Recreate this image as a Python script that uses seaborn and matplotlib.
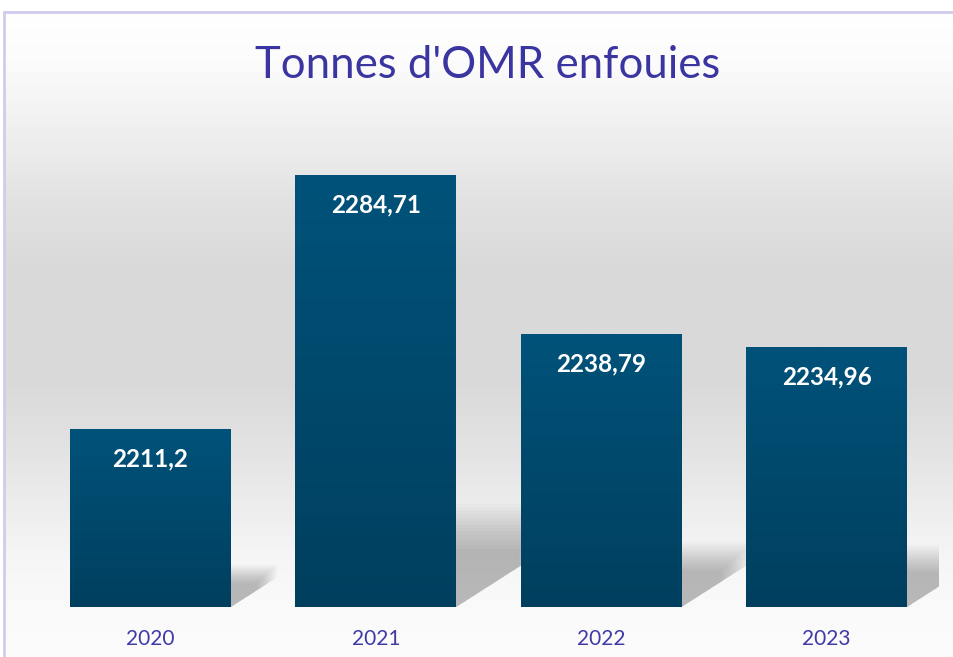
import numpy as np
import pandas as pd
import seaborn as sns
import matplotlib.pyplot as plt
from matplotlib.patches import Polygon

sns.set_style('white')
plt.rcParams['font.family'] = ['Lato', 'DejaVu Sans']

# données
years = ['2020', '2021', '2022', '2023']
tonnes = [2211.2, 2284.71, 2238.79, 2234.96]
title = "Tonnes d'OMR enfouies"

df = pd.DataFrame({'annee': years, 'tonnes': tonnes})

W, H = 954, 657
fig = plt.figure(figsize=(W / 100, H / 100), dpi=100)

# fond dégradé + cadre (coordonnées pixel)
bg = fig.add_axes([0, 0, 1, 1], zorder=-2)
bg.set_xlim(0, W)
bg.set_ylim(H, 0)
bg.axis('off')
stops_y = [12, 60, 100, 150, 200, 270, 380, 430, 500, 560, 610, 657]
stops_g = [255, 252, 245, 236, 226, 217, 217, 224, 236, 246, 250, 252]
yy = np.arange(12, H)
grey = np.interp(yy, stops_y, stops_g) / 255
img = np.repeat(np.repeat(grey[:, None, None], 3, axis=2), W - 4, axis=1)
bg.imshow(img, extent=[4, W, H, 12], aspect='auto', interpolation='nearest')
bg.plot([4, W], [12, 12], color='#d2cbee', lw=2)
bg.plot([4, 4], [12, H], color='#d2cbee', lw=2)

ax = fig.add_axes([37.75 / W, 50 / H, 901.5 / W, 484 / H])
ax.patch.set_alpha(0)
ymin, ymax = 2160, 2300
sns.barplot(data=df, x='annee', y='tonnes', color='#004a6e', width=0.714,
            ax=ax, saturation=1)
ax.set_xlim(-0.5, 3.5)
ax.set_ylim(ymin, ymax)
bars = list(ax.patches)

# ombres portées (floues)
px_x = 901.5 / 4
px_y = 484 / (ymax - ymin)
for p in bars:
    x0 = p.get_x()
    x1 = x0 + p.get_width()
    h = (p.get_height() + p.get_y() - ymin) * px_y
    dx = 0.25 * h / px_x
    s = 0.23 * h / px_y
    r = 0.16 * h / px_y
    for k in range(14):
        f = 1.04 - k * 0.035
        pts = [(x0, ymin), (x1, ymin), (x1 + dx * f, ymin + r * f),
               (x1 + dx * f, ymin + s * f), (x0 + dx * f, ymin + s * f)]
        ax.add_patch(Polygon(pts, closed=True, color='black', alpha=0.02,
                             lw=0, zorder=0.5))

# dégradé des barres
grad = np.linspace(0, 1, 200)[:, None]
top = np.array([0x00, 0x52, 0x7a]) / 255
bot = np.array([0x00, 0x3f, 0x5e]) / 255
grad_img = top * (1 - grad[..., None]) + bot * grad[..., None]
for p in bars:
    x0 = p.get_x()
    ytop = p.get_y() + p.get_height()
    ax.imshow(grad_img, extent=[x0, x0 + p.get_width(), ymin, ytop],
              aspect='auto', zorder=2, origin='upper', interpolation='bilinear')
    p.set_visible(False)
ax.set_xlim(-0.5, 3.5)
ax.set_ylim(ymin, ymax)
ax.set_aspect('auto')

for i, v in enumerate(tonnes):
    lab = f'{v:g}'.replace('.', ',')
    ax.annotate(lab, (i, v), xytext=(0, -29), textcoords='offset pixels',
                ha='center', va='center', color='white', fontsize=17.5,
                fontweight='bold', zorder=3)

sns.despine(ax=ax, left=True, bottom=True)
ax.set_yticks([])
ax.set_xlabel('')
ax.set_ylabel('')
ax.tick_params(axis='x', length=0, pad=16, labelsize=15, labelcolor='#3f3aa6')

fig.text(488 / W, 1 - 66 / H, title, ha='center', va='center',
         fontsize=31.5, color='#3a35a0')

fig.savefig('out.png', dpi=100)
